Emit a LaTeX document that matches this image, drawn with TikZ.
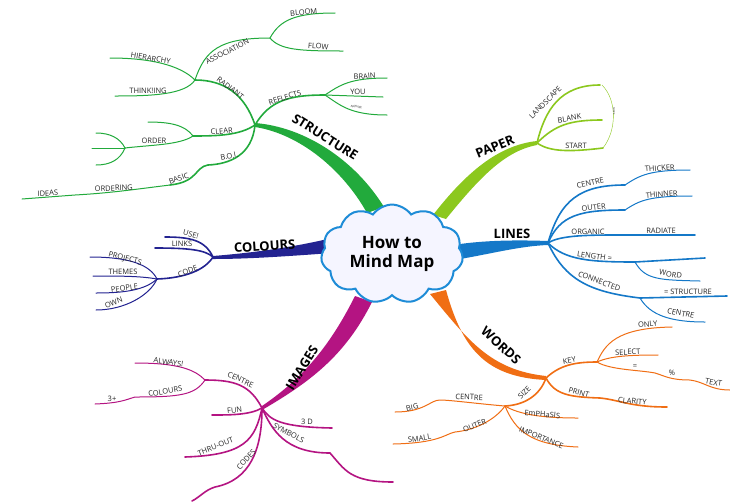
\documentclass[tikz,border=0pt]{standalone}
\usepackage{fontspec}
\setmainfont{Open Sans}
\usetikzlibrary{shapes.symbols}
\definecolor{cgreen}{RGB}{34,170,60}
\definecolor{clime}{RGB}{140,200,30}
\definecolor{cblue}{RGB}{20,120,200}
\definecolor{corange}{RGB}{240,110,20}
\definecolor{cnavy}{RGB}{35,35,145}
\definecolor{cmag}{RGB}{180,20,130}
\definecolor{ccloud}{RGB}{30,140,215}
\tikzset{
  lbl/.style={font=\fontsize{7.5}{8}\selectfont, inner sep=0.8pt, anchor=south, text=black!85},
  big/.style={font=\fontsize{13}{14}\selectfont\bfseries, inner sep=1pt, anchor=south},
  b1/.style={line width=1.6pt, line cap=round},
  b2/.style={line width=1pt, line cap=round},
}
\begin{document}
\begin{tikzpicture}[x=1pt,y=-1pt]
\useasboundingbox (0,0) rectangle (730,501);
\fill[white] (0,0) rectangle (730,501);

% ===== main branches =====
\fill[cgreen] (255,123) .. controls (305,127) and (355,160) .. (384,207) -- (367,213) .. controls (343,170) and (300,134) .. (255,127) -- cycle;
\fill[clime] (433,215) .. controls (468,170) and (500,145) .. (537,141) -- (537,145) .. controls (505,151) and (480,177) .. (446,219) -- cycle;
\fill[cblue] (460,244) .. controls (490,240) and (520,240) .. (548,241) -- (548,245) .. controls (520,246) and (490,254) .. (460,259) -- cycle;
\fill[corange] (430,294) .. controls (468,340) and (490,370) .. (546,376) -- (546,380) .. controls (485,377) and (462,348) .. (446,290) -- cycle;
\fill[cnavy] (332,238) -- (332,253) .. controls (290,256) and (250,259) .. (213,259) -- (213,256) .. controls (250,253) and (290,248) .. (332,238) -- cycle;
\fill[cmag] (355,296) -- (372,302) .. controls (345,356) and (310,382) .. (262,410) -- (262,406) .. controls (300,380) and (328,350) .. (355,296) -- cycle;

% ===== cloud =====
\node[cloud, cloud puffs=11, cloud puff arc=110, aspect=1.55, draw=ccloud, line width=2pt, fill=blue!4, minimum width=142pt, minimum height=98pt, align=center, font=\fontsize{17}{19}\selectfont\bfseries] (centre) at (392,254) {How to\\Mind Map};

\node[big, rotate=-32] (tstructure) at (322,142) {STRUCTURE};
\node[big, rotate=22] (tpaper) at (497,152) {PAPER};
\node[big] (tlines) at (512,240) {LINES};
\node[big, rotate=-42] (twords) at (497,350) {WORDS};
\node[big, rotate=4] (tcolours) at (265,252) {COLOURS};
\node[big, rotate=58] (timages) at (307,371) {IMAGES};

% ===== STRUCTURE =====
\begin{scope}[cgreen]
\draw[b1] (255,125) .. controls (245,95) and (225,80) .. (195,80);
\draw[b2] (195,80) .. controls (205,50) and (220,38) .. (270,38);
\draw[b2] (270,38) .. controls (280,20) and (295,13) .. (335,13);
\draw[b2] (270,38) .. controls (280,50) and (300,51) .. (343,51);
\draw[b2] (195,80) .. controls (180,65) and (150,58) .. (110,58);
\draw[b2] (195,80) .. controls (185,95) and (150,96) .. (115,96);
\draw[b1] (255,125) .. controls (270,100) and (290,95) .. (325,95);
\draw[b2] (325,95) .. controls (340,85) and (350,78) .. (387,78);
\draw[b2] (325,95) -- (383,97);
\draw[b2] (325,95) .. controls (340,105) and (350,115) .. (387,115);
\draw[b1] (255,125) .. controls (240,135) and (220,136) .. (193,136);
\draw[b2] (193,136) .. controls (185,125) and (170,122) .. (148,122);
\draw[b2] (193,136) .. controls (180,145) and (150,145) .. (125,148);
\draw[b2] (125,148) .. controls (120,138) and (110,133) .. (96,133);
\draw[b2] (125,148) -- (92,148);
\draw[b2] (125,148) .. controls (120,160) and (110,165) .. (96,165);
\draw[b1] (255,125) .. controls (252,155) and (230,164) .. (208,165) .. controls (195,167) and (198,182) .. (170,185);
\draw[b2] (170,185) .. controls (130,190) and (110,193) .. (75,195) -- (22,199);
\end{scope}
\node[lbl,rotate=-38] (n1) at (228,91) {RADIANT};
\node[lbl,rotate=27] (n2) at (229,55) {ASSOCIATION};
\node[lbl,rotate=5] (n3) at (304,16) {BLOOM};
\node[lbl,rotate=-4] (n4) at (318,50) {FLOW};
\node[lbl,rotate=-10] (n5) at (150,62) {HIERARCHY};
\node[lbl] (n6) at (148,95) {THINK!ING};
\node[lbl,rotate=18] (n7) at (286,101) {REFLECTS};
\node[lbl,rotate=5] (n8) at (365,80) {BRAIN};
\node[lbl] (n9) at (358,96) {YOU};
\node[lbl,font=\fontsize{3}{3}\selectfont,rotate=-8] (n10) at (356,109) {NATURE};
\node[lbl,rotate=5] (n11) at (222,135) {CLEAR};
\node[lbl] (n12) at (154,145) {ORDER};
\node[lbl,rotate=12] (n13) at (230,160) {B.O.I.};
\node[lbl,rotate=20] (n14) at (180,182) {BASIC};
\node[lbl,rotate=3] (n15) at (114,192) {ORDERING};
\node[lbl,rotate=3] (n16) at (48,197) {IDEAS};

% ===== PAPER =====
\begin{scope}[clime]
\draw[b1] (537,143) .. controls (545,110) and (560,85) .. (600,85);
\draw[b1] (537,143) .. controls (555,125) and (570,120) .. (602,120);
\draw[b1] (537,143) .. controls (550,152) and (570,152) .. (603,148);
\draw[line width=0.4pt] (602,85) .. controls (617,100) and (617,130) .. (603,148);
\end{scope}
\node[lbl,rotate=45] (p1) at (548,105) {LANDSCAPE};
\node[lbl,rotate=10] (p2) at (570,122) {BLANK};
\node[lbl] (p3) at (576,150) {START};
\node[lbl,font=\fontsize{2.5}{3}\selectfont,rotate=-90] (p4) at (612,111) {SHAPE};

% ===== LINES =====
\begin{scope}[cblue]
\draw[b1] (548,243) .. controls (560,200) and (580,185) .. (625,185);
\draw[b2] (625,185) .. controls (640,175) and (650,170) .. (690,170);
\draw[b1] (548,243) .. controls (560,215) and (580,210) .. (625,210);
\draw[b2] (625,210) .. controls (640,200) and (650,196) .. (692,196);
\draw[b1] (548,243) .. controls (560,235) and (590,235) .. (620,235) -- (695,235);
\draw[b1] (548,243) .. controls (565,260) and (590,262) .. (635,262) -- (705,258);
\draw[b2] (635,262) .. controls (645,280) and (660,280) .. (700,281);
\draw[b1] (548,243) .. controls (565,280) and (590,292) .. (640,298) -- (727,296);
\draw[b2] (640,298) .. controls (650,315) and (670,322) .. (705,322);
\end{scope}
\node[lbl,rotate=12] (l1) at (591,187) {CENTRE};
\node[lbl,rotate=4] (l2) at (660,172) {THICKER};
\node[lbl,rotate=6] (l3) at (594,211) {OUTER};
\node[lbl,rotate=4] (l4) at (662,198) {THINNER};
\node[lbl] (l5) at (588,236) {ORGANIC};
\node[lbl] (l6) at (661,234) {RADIATE};
\node[lbl,rotate=-8] (l7) at (594,260) {LENGTH =};
\node[lbl,rotate=-10] (l8) at (670,278) {WORD};
\node[lbl,rotate=-20] (l9) at (598,285) {CONNECTED};
\node[lbl] (l10) at (688,296) {= STRUCTURE};
\node[lbl,rotate=-12] (l11) at (680,317) {CENTRE};

% ===== WORDS =====
\begin{scope}[corange]
\draw[b1] (546,378) .. controls (560,365) and (575,362) .. (597,362);
\draw[b2] (597,362) .. controls (605,345) and (615,328) .. (672,327);
\draw[b2] (597,362) .. controls (610,356) and (630,355) .. (658,355);
\draw[b2] (597,362) .. controls (610,370) and (640,370) .. (655,373) .. controls (665,376) and (670,380) .. (690,380) .. controls (705,382) and (710,390) .. (730,390);
\draw[b1] (546,378) .. controls (555,395) and (570,397) .. (600,398) .. controls (620,400) and (630,407) .. (667,407);
\draw[b1] (546,378) .. controls (540,395) and (525,405) .. (505,406);
\draw[b2] (505,406) .. controls (480,404) and (450,400) .. (440,400) .. controls (430,400) and (425,412) .. (395,412);
\draw[b2] (505,406) .. controls (520,415) and (545,418) .. (578,418);
\draw[b2] (505,406) .. controls (515,430) and (530,445) .. (578,447);
\draw[b2] (505,406) .. controls (495,420) and (475,430) .. (455,432) .. controls (445,434) and (440,443) .. (393,444);
\end{scope}
\node[lbl,rotate=10] (w1) at (570,364) {KEY};
\node[lbl,rotate=5] (w2) at (648,328) {ONLY};
\node[lbl,rotate=3] (w3) at (628,356) {SELECT};
\node[lbl] (w4) at (635,369) {=};
\node[lbl] (w5) at (672,377) {\%};
\node[lbl,rotate=-10] (w6) at (713,386) {TEXT};
\node[lbl,rotate=-15] (w7) at (578,396) {PRINT};
\node[lbl,rotate=-5] (w8) at (632,405) {CLARITY};
\node[lbl,rotate=45] (w9) at (527,395) {SIZE};
\node[lbl,rotate=-2] (w10) at (469,401) {CENTRE};
\node[lbl,rotate=12] (w11) at (413,411) {BIG};
\node[lbl,rotate=-5] (w12) at (542,418) {EmPHaSIS};
\node[lbl,rotate=-22] (w13) at (540,441) {IMPORTANCE};
\node[lbl,rotate=22] (w14) at (476,429) {OUTER};
\node[lbl,rotate=8] (w15) at (420,442) {SMALL};

% ===== COLOURS =====
\begin{scope}[cnavy]
\draw[b1] (213,257) .. controls (205,240) and (190,237) .. (165,237);
\draw[b1] (213,257) .. controls (205,250) and (190,248) .. (155,248);
\draw[b1] (213,257) .. controls (205,270) and (185,278) .. (157,279);
\draw[b2] (157,279) .. controls (150,265) and (130,257) .. (90,257);
\draw[b2] (157,279) .. controls (140,276) and (120,276) .. (93,276);
\draw[b2] (157,279) .. controls (145,290) and (125,293) .. (96,293);
\draw[b2] (157,279) .. controls (150,295) and (125,310) .. (96,310);
\end{scope}
\node[lbl,rotate=-15] (c1) at (190,238) {USE!};
\node[lbl] (c2) at (182,248) {LINKS};
\node[lbl,rotate=20] (c3) at (189,275) {CODE};
\node[lbl,rotate=-15] (c4) at (124,263) {PROJECTS};
\node[lbl] (c5) at (123,276) {THEMES};
\node[lbl,rotate=8] (c6) at (125,292) {PEOPLE};
\node[lbl,rotate=20] (c7) at (115,306) {OWN};

% ===== IMAGES =====
\begin{scope}[cmag]
\draw[b1] (262,408) .. controls (250,385) and (235,380) .. (205,380);
\draw[b2] (205,380) .. controls (195,370) and (180,363) .. (135,363);
\draw[b2] (205,380) .. controls (195,395) and (180,397) .. (135,397) .. controls (125,400) and (120,403) .. (95,404);
\draw[b1] (262,408) .. controls (250,415) and (230,415) .. (212,415);
\draw[b1] (262,408) .. controls (270,420) and (280,427) .. (332,428);
\draw[b1] (262,408) .. controls (272,430) and (285,453) .. (330,453) .. controls (345,470) and (350,482) .. (393,482);
\draw[b1] (262,408) .. controls (255,440) and (245,455) .. (185,457);
\draw[b1] (262,408) .. controls (262,450) and (250,480) .. (215,487) .. controls (205,490) and (200,497) .. (192,501);
\end{scope}
\node[lbl,rotate=-25] (i1) at (239,383) {CENTRE};
\node[lbl,rotate=-8] (i2) at (168,366) {ALWAYS!};
\node[lbl,rotate=10] (i3) at (166,395) {COLOURS};
\node[lbl] (i4) at (112,403) {3+};
\node[lbl,rotate=5] (i5) at (235,414) {FUN};
\node[lbl] (i6) at (307,426) {3 D};
\node[lbl,rotate=-28] (i7) at (287,436) {SYMBOLS};
\node[lbl,rotate=22] (i8) at (217,450) {THRU-OUT};
\node[lbl,rotate=48] (i9) at (249,462) {CODES};
\end{tikzpicture}
\end{document}
